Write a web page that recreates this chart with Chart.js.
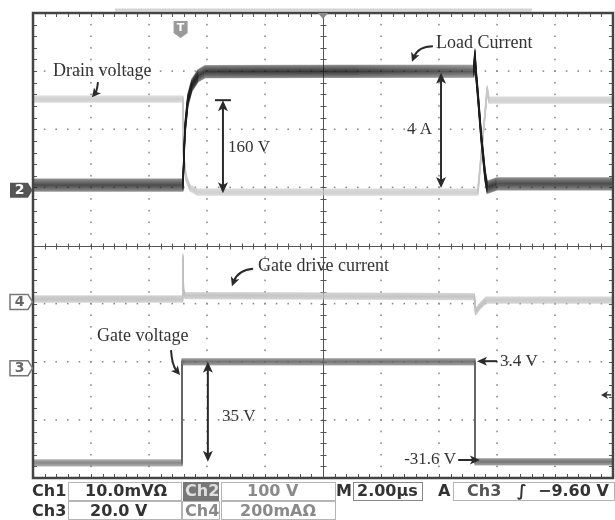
<!DOCTYPE html>
<html><head><meta charset="utf-8">
<script src="https://cdn.jsdelivr.net/npm/chart.js@4.4.1/dist/chart.umd.min.js"></script>
<style>html,body{margin:0;padding:0;background:#fff;}#wrap{width:615px;height:520px;position:relative;}</style>
</head><body><div id="wrap"><canvas id="c" width="615" height="520"></canvas></div>
<script>
// Time axis in microseconds (2.00 µs/div, 10 divisions); vertical values in screen divisions (0 = bottom graticule, 8 = top)
const loadCurrentT = [0, 5.17, 5.24, 5.34, 5.48, 5.69, 5.93, 15.20, 15.24, 15.27, 15.34, 15.45, 15.59, 15.66, 16.0, 20];
const loadCurrentV = [5.04, 5.04, 6.00, 6.50, 6.76, 6.92, 6.99, 7.00, 7.28, 7.00, 6.60, 5.90, 5.20, 5.00, 5.06, 5.06];

const drainVoltageT = [0, 5.17, 5.19, 5.28, 5.41, 5.66, 15.34, 15.62, 15.66, 15.72, 20];
const drainVoltageV = [6.52, 6.52, 5.56, 5.16, 4.99, 4.92, 4.92, 6.45, 6.70, 6.50, 6.50];

const gateDriveT = [0, 5.16, 5.17, 5.19, 5.24, 15.22, 15.26, 15.40, 15.62, 20];
const gateDriveV = [3.08, 3.08, 3.80, 3.20, 3.14, 3.12, 2.86, 2.95, 3.06, 3.06];

const gateVoltageT = [0, 5.14, 5.14, 15.24, 15.24, 20];
const gateVoltageV = [0.26, 0.26, 2.00, 2.00, 0.28, 0.28];

const seriesNames = ['Load Current', 'Drain voltage', 'Gate drive current', 'Gate voltage'];

// graticule
const timeMin = 0, timeMax = 20, divMin = 0, divMax = 8;
const timePerDiv = 2;

// channel ground markers (label, level in div)
const chanLabels = ['2', '4', '3'];
const chanLevels = [4.95, 3.03, 1.89];
const triggerTime = 5.09;
const triggerLevel = 1.43;

// annotation texts and anchor positions (µs, div)
const noteTexts = ['Drain voltage', 'Load Current', '160 V', '4 A', 'Gate drive current', 'Gate voltage', '35 V', '3.4 V', '-31.6 V'];
const noteT = [0.69, 13.90, 6.72, 12.90, 7.76, 2.21, 6.52, 16.10, 14.59];
const noteV = [7.00, 7.48, 5.68, 5.99, 3.65, 2.43, 1.05, 2.01, 0.31];

// footer readout
const footerRow1 = ['Ch1', '10.0mVΩ', 'Ch2', '100 V', 'M', '2.00µs', 'A', 'Ch3', '∫', '−9.60 V'];
const footerRow2 = ['Ch3', '20.0 V', 'Ch4', '200mAΩ'];

function pts(T, V) { return T.map((t, i) => ({x: t, y: V[i]})); }

const bandPlugin = {
  id: 'band',
  beforeDatasetDraw(chart, args) {
    const ds = chart.data.datasets[args.index];
    const p = args.meta.data;
    const ctx = chart.ctx, a = chart.chartArea;
    ctx.save();
    ctx.beginPath(); ctx.rect(a.left + 1, a.top, a.right - a.left - 2, a.bottom - a.top); ctx.clip();
    ctx.lineJoin = 'round'; ctx.lineCap = 'butt';
    const h = ds.band;
    for (let off = -h; off <= h; off += 1) {
      const w = 1 - Math.abs(off) / (h + 1);
      const al = ds.edgeAlpha + (ds.coreAlpha - ds.edgeAlpha) * w;
      ctx.strokeStyle = 'rgba(' + ds.rgb.join(',') + ',' + al.toFixed(3) + ')';
      ctx.lineWidth = 1.3;
      ctx.beginPath();
      p.forEach((pt, i) => { if (i === 0) ctx.moveTo(pt.x, pt.y + off); else ctx.lineTo(pt.x, pt.y + off); });
      ctx.stroke();
    }
    ctx.restore();
    return false;
  }
};

function arrowHead(ctx, x, y, ang, len, hw) {
  ctx.save(); ctx.translate(x, y); ctx.rotate(ang);
  ctx.beginPath(); ctx.moveTo(0, 0); ctx.lineTo(-len, -hw); ctx.lineTo(-len * 0.75, 0); ctx.lineTo(-len, hw); ctx.closePath(); ctx.fill();
  ctx.restore();
}

const gridPlugin = {
  id: 'grid',
  beforeDatasetsDraw(chart) {
    const ctx = chart.ctx, xs = chart.scales.x, ys = chart.scales.y, a = chart.chartArea;
    const X = v => xs.getPixelForValue(v), Y = v => ys.getPixelForValue(v);
    ctx.save();
    ctx.fillStyle = '#fff'; ctx.fillRect(a.left, a.top, a.right - a.left, a.bottom - a.top);
    ctx.strokeStyle = '#d4d4d4'; ctx.lineWidth = 3;
    ctx.beginPath(); ctx.moveTo(115, a.top - 3); ctx.lineTo(532, a.top - 3); ctx.stroke();
    ctx.fillStyle = '#8c8c8c';
    const nx = (timeMax - timeMin) / timePerDiv, ny = divMax - divMin;
    for (let i = 1; i < nx; i++) {
      if (i === nx / 2) continue;
      const x = X(timeMin + i * timePerDiv);
      for (let j = 1; j < ny * 5; j++) { const y = Y(j / 5); ctx.fillRect(x - 0.8, y - 0.8, 1.6, 1.6); }
    }
    for (let j = 1; j < ny; j++) {
      if (j === ny / 2) continue;
      const y = Y(j);
      for (let i = 1; i < nx * 5; i++) { const x = X(i * timePerDiv / 5); ctx.fillRect(x - 0.8, y - 0.8, 1.6, 1.6); }
    }
    ctx.strokeStyle = '#555'; ctx.lineWidth = 1;
    const cx = Math.round(X((timeMin + timeMax) / 2)) + 0.5, cy = Math.round(Y((divMin + divMax) / 2)) + 0.5;
    ctx.beginPath(); ctx.moveTo(cx, a.top); ctx.lineTo(cx, a.bottom); ctx.moveTo(a.left, cy); ctx.lineTo(a.right, cy); ctx.stroke();
    ctx.beginPath();
    for (let i = 1; i < nx * 5; i++) { const x = Math.round(X(i * timePerDiv / 5)) + 0.5; ctx.moveTo(x, cy - 3); ctx.lineTo(x, cy + 3); ctx.moveTo(x, a.top); ctx.lineTo(x, a.top + 4); ctx.moveTo(x, a.bottom); ctx.lineTo(x, a.bottom - 4); }
    for (let j = 1; j < ny * 5; j++) { const y = Math.round(Y(j / 5)) + 0.5; ctx.moveTo(cx - 3, y); ctx.lineTo(cx + 3, y); ctx.moveTo(a.left, y); ctx.lineTo(a.left + 4, y); ctx.moveTo(a.right, y); ctx.lineTo(a.right - 4, y); }
    ctx.stroke();
    ctx.restore();
  },
  afterDatasetsDraw(chart) {
    const ctx = chart.ctx, xs = chart.scales.x, ys = chart.scales.y, a = chart.chartArea;
    const X = v => xs.getPixelForValue(v), Y = v => ys.getPixelForValue(v);
    ctx.save();
    ctx.strokeStyle = '#444'; ctx.lineWidth = 2.5;
    ctx.strokeRect(a.left, a.top, a.right - a.left, a.bottom - a.top);
    ctx.fillStyle = '#8a8a8a';
    const cx = X((timeMin + timeMax) / 2);
    ctx.beginPath(); ctx.moveTo(cx - 5, a.top); ctx.lineTo(cx + 5, a.top); ctx.lineTo(cx, a.top + 6); ctx.closePath(); ctx.fill();
    const tx = X(triggerTime);
    ctx.fillStyle = '#9a9a9a';
    ctx.beginPath(); ctx.moveTo(tx - 7, 21); ctx.lineTo(tx + 7, 21); ctx.lineTo(tx + 7, 33); ctx.lineTo(tx, 38); ctx.lineTo(tx - 7, 33); ctx.closePath(); ctx.fill();
    ctx.fillStyle = '#fff'; ctx.font = 'bold 11px "DejaVu Sans"'; ctx.textAlign = 'center'; ctx.textBaseline = 'middle';
    ctx.fillText('T', tx, 28.5);
    chanLabels.forEach((lab, i) => {
      const y = Y(chanLevels[i]);
      const filled = i === 0;
      ctx.beginPath();
      ctx.moveTo(10, y - 7.5); ctx.lineTo(28, y - 7.5); ctx.lineTo(32.5, y); ctx.lineTo(28, y + 7.5); ctx.lineTo(10, y + 7.5); ctx.closePath();
      if (filled) { ctx.fillStyle = '#555'; ctx.fill(); }
      else { ctx.fillStyle = '#fff'; ctx.fill(); ctx.strokeStyle = '#777'; ctx.lineWidth = 1.5; ctx.stroke(); }
      ctx.fillStyle = filled ? '#fff' : '#666';
      ctx.font = 'bold 14px "DejaVu Sans"'; ctx.textAlign = 'center'; ctx.textBaseline = 'middle';
      ctx.fillText(lab, 19.5, y + 0.5);
    });
    ctx.fillStyle = '#333'; ctx.strokeStyle = '#333'; ctx.lineWidth = 1.5;
    const tly = Y(triggerLevel);
    ctx.beginPath(); ctx.moveTo(a.right - 2, tly); ctx.lineTo(a.right - 9, tly); ctx.stroke();
    arrowHead(ctx, a.right - 12, tly, Math.PI, 7, 4);

    ctx.fillStyle = '#333';
    ctx.textBaseline = 'middle';
    noteTexts.forEach((t, i) => {
      const isName = /[a-z]{3}/i.test(t);
      ctx.font = (isName ? 18 : 17) + 'px "Liberation Serif"';
      ctx.textAlign = (t === '-31.6 V') ? 'right' : 'left';
      ctx.fillText(t, X(noteT[i]), Y(noteV[i]));
    });

    ctx.strokeStyle = '#2a2a2a'; ctx.fillStyle = '#2a2a2a'; ctx.lineWidth = 2;
    const curved = [
      [[2.24, 6.81], [2.21, 6.66], [2.03, 6.55]],
      [[13.79, 7.43], [13.28, 7.43], [13.07, 7.16]],
      [[7.59, 3.60], [7.07, 3.58], [6.86, 3.30]],
      [[4.76, 2.20], [4.79, 1.94], [5.07, 1.77]]
    ];
    curved.forEach(c => {
      const p0 = [X(c[0][0]), Y(c[0][1])], p1 = [X(c[1][0]), Y(c[1][1])], p2 = [X(c[2][0]), Y(c[2][1])];
      const ang = Math.atan2(p2[1] - p1[1], p2[0] - p1[0]);
      ctx.beginPath(); ctx.moveTo(p0[0], p0[1]);
      ctx.quadraticCurveTo(p1[0], p1[1], p2[0] - Math.cos(ang) * 5, p2[1] - Math.sin(ang) * 5); ctx.stroke();
      arrowHead(ctx, p2[0], p2[1], ang, 9, 4.5);
    });
    const dbl = [[6.55, 6.50, 4.90, true], [14.07, 6.97, 4.99, false], [6.03, 2.00, 0.28, false]];
    dbl.forEach(d => {
      const x = X(d[0]), y1 = Y(d[1]), y2 = Y(d[2]);
      ctx.beginPath(); ctx.moveTo(x, y1 + 6); ctx.lineTo(x, y2 - 6); ctx.stroke();
      arrowHead(ctx, x, y1, -Math.PI / 2, 11, 5);
      arrowHead(ctx, x, y2, Math.PI / 2, 11, 5);
      if (d[3]) { ctx.beginPath(); ctx.moveTo(x - 8, y1); ctx.lineTo(x + 8, y1); ctx.stroke(); }
    });
    const straight = [[16.00, 2.01, 15.31, 2.01], [14.66, 0.31, 15.41, 0.31]];
    straight.forEach(s => {
      const x1 = X(s[0]), y1 = Y(s[1]), x2 = X(s[2]), y2 = Y(s[3]);
      const ang = Math.atan2(y2 - y1, x2 - x1);
      ctx.beginPath(); ctx.moveTo(x1, y1); ctx.lineTo(x2 - Math.cos(ang) * 6, y2); ctx.stroke();
      arrowHead(ctx, x2, y2, ang, 10, 4.5);
    });
    ctx.restore();
  },
  afterDraw(chart) {
    const ctx = chart.ctx;
    ctx.save();
    ctx.font = 'bold 16px "DejaVu Sans"'; ctx.textBaseline = 'middle'; ctx.textAlign = 'left';
    const dark = '#333', grey = '#8a8a8a';
    const r1 = 491.5, r2 = 511.5;
    ctx.strokeStyle = '#b5b5b5'; ctx.lineWidth = 1;
    ctx.strokeRect(68.5, 482.5, 113, 18);
    ctx.strokeRect(221.5, 482.5, 114, 18);
    ctx.strokeRect(453.5, 482.5, 161, 18);
    ctx.strokeRect(68.5, 501.5, 113, 18);
    ctx.strokeRect(182.5, 501.5, 37, 18);
    ctx.strokeRect(221.5, 501.5, 114, 18);
    ctx.strokeStyle = '#888'; ctx.strokeRect(353.5, 482.5, 69, 18);
    ctx.fillStyle = '#777'; ctx.fillRect(183, 482, 36, 19);
    const put = (t, x, y, c) => { ctx.fillStyle = c; ctx.fillText(t, x, y); };
    put(footerRow1[0], 32, r1, dark);
    put(footerRow1[1], 85, r1, dark);
    put(footerRow1[2], 185, r1, '#e0e0e0');
    put(footerRow1[3], 247, r1, grey);
    put(footerRow1[4], 336, r1, dark);
    put(footerRow1[5], 357, r1, dark);
    put(footerRow1[6], 438, r1, dark);
    put(footerRow1[7], 467, r1, '#555');
    put(footerRow1[8], 517, r1, dark);
    put(footerRow1[9], 538, r1, dark);
    put(footerRow2[0], 32, r2, dark);
    put(footerRow2[1], 90, r2, dark);
    put(footerRow2[2], 185, r2, grey);
    put(footerRow2[3], 240, r2, grey);
    ctx.restore();
  }
};

new Chart(document.getElementById('c'), {
  type: 'line',
  data: {
    datasets: [
      {label: seriesNames[0], data: pts(loadCurrentT, loadCurrentV), band: 6, rgb: [30, 30, 30], coreAlpha: 0.85, edgeAlpha: 0.4, borderWidth: 0, pointRadius: 0},
      {label: seriesNames[1], data: pts(drainVoltageT, drainVoltageV), band: 3, rgb: [198, 198, 198], coreAlpha: 0.9, edgeAlpha: 0.55, borderWidth: 0, pointRadius: 0},
      {label: seriesNames[2], data: pts(gateDriveT, gateDriveV), band: 3, rgb: [192, 192, 192], coreAlpha: 0.9, edgeAlpha: 0.55, borderWidth: 0, pointRadius: 0},
      {label: seriesNames[3], data: pts(gateVoltageT, gateVoltageV), band: 3, rgb: [100, 100, 100], coreAlpha: 0.8, edgeAlpha: 0.4, borderWidth: 0, pointRadius: 0}
    ]
  },
  options: {
    responsive: false, animation: false, devicePixelRatio: 1,
    layout: {padding: {left: 33, right: 2, top: 13, bottom: 42}},
    parsing: true,
    plugins: {legend: {display: false}, tooltip: {enabled: false}},
    scales: {
      x: {type: 'linear', min: timeMin, max: timeMax, display: false},
      y: {type: 'linear', min: divMin, max: divMax, display: false}
    }
  },
  plugins: [gridPlugin, bandPlugin]
});
</script></body></html>
